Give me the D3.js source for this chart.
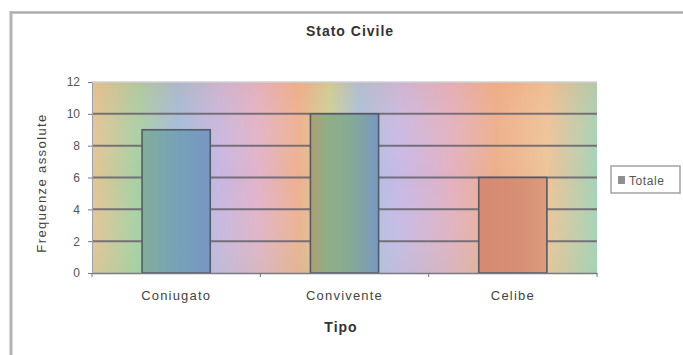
<!DOCTYPE html>
<html>
<head>
<meta charset="utf-8">
<script src="https://cdn.jsdelivr.net/npm/d3@7"></script>
<style>
  html, body { margin: 0; padding: 0; background: #fff; }
  svg { display: block; font-family: "Liberation Sans", Arial, sans-serif; }
</style>
</head>
<body>
<svg id="chart" width="683" height="355"></svg>
<script>
// Stato civile: frequenze assolute per tipo
const categories = ["Coniugato", "Convivente", "Celibe"];
const totale = [9, 10, 6];
const yTicks = [0, 2, 4, 6, 8, 10, 12];
const seriesName = "Totale";

const svg = d3.select("#chart");
const W = 683, H = 355;
const plot = { left: 92, right: 597, top: 82, bottom: 273 };

// Pastel rainbow fill of the plot area
const rainbow = [
  [0.00, "#e4c494"], [0.09, "#a6d0a4"], [0.17, "#9fbcdc"], [0.25, "#c6b6e2"],
  [0.33, "#e2b2c8"], [0.41, "#eeb08e"], [0.47, "#c9d39a"], [0.53, "#a6c2e0"],
  [0.61, "#c8b8e6"], [0.71, "#e2b0c2"], [0.80, "#edae8a"], [0.90, "#eec398"],
  [1.00, "#a4d2b6"]
];
// Deeper rainbow used for the bar series (same horizontal span)
const barRainbow = [
  [0.10, "#82ad9a"], [0.17, "#76a1b8"], [0.235, "#7896c2"],
  [0.43, "#b29c72"], [0.465, "#90ae86"], [0.51, "#86aa94"], [0.57, "#7898c4"],
  [0.76, "#d48a72"], [0.84, "#d68e74"], [0.90, "#dc9c7c"]
];

const defs = svg.append("defs");
function hGradient(id, stops) {
  const g = defs.append("linearGradient")
    .attr("id", id)
    .attr("gradientUnits", "userSpaceOnUse")
    .attr("x1", plot.left).attr("y1", 0)
    .attr("x2", plot.right).attr("y2", 0);
  g.selectAll("stop").data(stops).join("stop")
    .attr("offset", d => d[0]).attr("stop-color", d => d[1]);
}
hGradient("rainbow", rainbow);
hGradient("barRainbow", barRainbow);

// Slight vertical shading of the plot area
const vgrad = defs.append("linearGradient")
  .attr("id", "shade").attr("x1", 0).attr("y1", 0).attr("x2", 0).attr("y2", 1);
vgrad.append("stop").attr("offset", 0).attr("stop-color", "#f3a070").attr("stop-opacity", 0.18);
vgrad.append("stop").attr("offset", 0.5).attr("stop-color", "#ffffff").attr("stop-opacity", 0);
vgrad.append("stop").attr("offset", 1).attr("stop-color", "#9fd0a0").attr("stop-opacity", 0.15);

// Chart frame (top and left edges)
svg.append("line").attr("x1", 10).attr("x2", W).attr("y1", 12.5).attr("y2", 12.5)
  .attr("stroke", "#adadad").attr("stroke-width", 2.5);
svg.append("line").attr("x1", 11).attr("x2", 11).attr("y1", 11).attr("y2", H)
  .attr("stroke", "#b4b4b4").attr("stroke-width", 3);

// Scales
const x = d3.scaleBand().domain(categories)
  .range([plot.left, plot.right]).paddingInner(0.595).paddingOuter(0.2975);
const y = d3.scaleLinear().domain([0, 12]).range([plot.bottom, plot.top]);

// Plot area background
svg.append("rect").attr("x", plot.left).attr("y", plot.top)
  .attr("width", plot.right - plot.left).attr("height", plot.bottom - plot.top)
  .attr("fill", "url(#rainbow)");
svg.append("rect").attr("x", plot.left).attr("y", plot.top)
  .attr("width", plot.right - plot.left).attr("height", plot.bottom - plot.top)
  .attr("fill", "url(#shade)");
svg.append("line").attr("x1", plot.left).attr("x2", plot.right)
  .attr("y1", plot.top).attr("y2", plot.top)
  .attr("stroke", "#cfcfd6").attr("stroke-width", 1.5);

// Gridlines
svg.append("g").selectAll("line")
  .data(yTicks.filter(v => v > 0 && v < 12)).join("line")
  .attr("x1", plot.left).attr("x2", plot.right)
  .attr("y1", d => y(d)).attr("y2", d => y(d))
  .attr("stroke", "#67626c").attr("stroke-width", 2).attr("opacity", 0.85);

// Bars
svg.append("g").selectAll("rect").data(categories).join("rect")
  .attr("x", d => x(d)).attr("width", x.bandwidth())
  .attr("y", (d, i) => y(totale[i]))
  .attr("height", (d, i) => y(0) - y(totale[i]))
  .attr("fill", "url(#barRainbow)")
  .attr("stroke", "#535c66").attr("stroke-width", 1.6);

// Y axis
const yAxis = svg.append("g")
  .attr("transform", `translate(${plot.left},0)`)
  .call(d3.axisLeft(y).tickValues(yTicks).tickSize(4).tickPadding(8));
yAxis.select(".domain").attr("stroke", "#a0a0a6");
yAxis.selectAll(".tick line").attr("stroke", "#777");
yAxis.selectAll(".tick text")
  .attr("fill", "#555").attr("font-size", 12)
  .attr("font-family", "'Liberation Sans', Arial, sans-serif");

// X axis
const xAxis = svg.append("g")
  .attr("transform", `translate(0,${plot.bottom})`)
  .call(d3.axisBottom(x).tickSize(0).tickPadding(18));
xAxis.select(".domain").attr("stroke", "#7a7a84").attr("stroke-width", 1.5);
xAxis.selectAll(".tick text")
  .attr("fill", "#444").attr("font-size", 13).attr("letter-spacing", 1.2)
  .attr("font-family", "'Liberation Sans', Arial, sans-serif");
// Category boundary ticks
svg.append("g").selectAll("line")
  .data(d3.range(categories.length + 1)).join("line")
  .attr("x1", i => plot.left + i * x.step()).attr("x2", i => plot.left + i * x.step())
  .attr("y1", plot.bottom).attr("y2", plot.bottom + 4)
  .attr("stroke", "#777");

// Titles
svg.append("text").attr("x", 350).attr("y", 36)
  .attr("text-anchor", "middle").attr("font-size", 14).attr("font-weight", "bold")
  .attr("letter-spacing", 1).attr("fill", "#333").text("Stato Civile");
svg.append("text").attr("x", 341).attr("y", 332)
  .attr("text-anchor", "middle").attr("font-size", 14).attr("font-weight", "bold")
  .attr("letter-spacing", 1).attr("fill", "#333").text("Tipo");
svg.append("text")
  .attr("transform", "translate(46,183) rotate(-90)")
  .attr("text-anchor", "middle").attr("font-size", 13).attr("letter-spacing", 1.4)
  .attr("fill", "#444").text("Frequenze assolute");

// Legend
const leg = svg.append("g").attr("transform", "translate(611,166)");
leg.append("rect").attr("width", 69).attr("height", 27)
  .attr("fill", "#fff").attr("stroke", "#a3a3a3").attr("stroke-width", 1.5);
leg.append("rect").attr("x", 7).attr("y", 10).attr("width", 7).attr("height", 8)
  .attr("fill", "#8f8f96");
leg.append("text").attr("x", 18).attr("y", 18.5)
  .attr("font-size", 12).attr("letter-spacing", 0.6).attr("fill", "#555").text(seriesName);
</script>
</body>
</html>
